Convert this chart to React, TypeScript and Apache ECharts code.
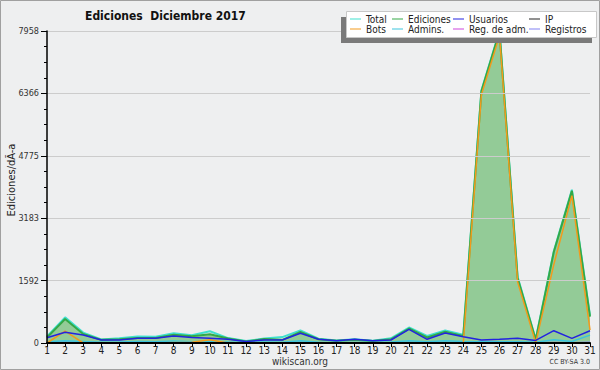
import React, { useEffect, useRef } from "react";
import * as echarts from "echarts";

const days = ["1","2","3","4","5","6","7","8","9","10","11","12","13","14","15","16","17","18","19","20","21","22","23","24","25","26","27","28","29","30","31"];
const yTicks = [0, 1592, 3183, 4775, 6366, 7958];

const total = [165,655,265,90,120,165,160,250,200,300,125,50,115,150,320,110,65,95,60,120,395,180,320,210,6440,7958,1690,95,2340,3910,700];
const ediciones = [140,612,230,80,95,130,130,210,170,225,115,40,100,80,285,95,55,85,50,95,370,140,285,180,6420,7940,1660,80,2320,3880,670];
const usuarios = [135,272,204,77,77,119,119,178,140,119,94,40,77,77,250,94,60,94,55,77,349,94,255,160,77,94,119,65,314,119,314];
const ip = [5,10,8,3,5,5,5,8,8,10,5,2,5,3,8,3,2,3,2,5,10,5,8,5,5,5,5,3,8,5,8];
const bots = [0,306,0,0,0,0,0,10,20,80,0,0,0,0,0,0,0,0,0,0,0,0,0,0,6330,7840,1560,5,2000,3760,330];
const admins = [30,55,40,20,25,40,35,50,30,45,25,10,25,20,55,20,12,15,10,25,60,30,55,40,30,30,30,20,80,40,200];
const regAdm = [0,0,0,0,0,0,0,0,0,0,0,0,0,0,0,0,0,0,0,0,0,0,0,0,0,0,0,0,0,0,0];
const registros = [15,20,15,10,12,15,12,15,12,15,10,5,10,8,15,10,6,8,6,10,18,10,15,12,10,12,10,8,15,12,20];

const colors: Record<string, string> = {
  "Total": "#3fe0cf",
  "Ediciones": "#34a846",
  "Usuarios": "#2323e0",
  "IP": "#222222",
  "Bots": "#f39a1c",
  "Admins.": "#3cc4dc",
  "Reg. de adm.": "#cc44dd",
  "Registros": "#8080f2",
};

const FONT = "DejaVu Sans Condensed, DejaVu Sans, sans-serif";

export default function App() {
  const ref = useRef<HTMLDivElement>(null);
  useEffect(() => {
    if (!ref.current) return;
    const chart = echarts.init(ref.current, undefined, { renderer: "svg" });
    const line = (name: string, data: number[], width: number, extra: any = {}) => ({
      name,
      type: "line",
      data,
      showSymbol: false,
      symbol: "none",
      color: colors[name],
      lineStyle: { color: colors[name], width },
      ...extra,
    });
    const legendCol = (names: string[], left: number) => ({
      data: names,
      orient: "vertical",
      left,
      top: 14,
      z: 30,
      padding: 0,
      itemGap: 0,
      itemWidth: 11,
      itemHeight: 1,
      icon: "rect",
      textStyle: { fontFamily: FONT, fontSize: 10, color: "#222", lineHeight: 10, padding: [0, 0, 0, 0] },
      selectedMode: false,
    });
    chart.setOption({
      animation: false,
      backgroundColor: "#eeeff0",
      textStyle: { fontFamily: FONT },
      graphic: [
        { type: "rect", z: -10, shape: { x: 0.5, y: 0.5, width: 599, height: 369 }, style: { fill: "none", stroke: "#a0a0a0", lineWidth: 1 } },
        { type: "rect", z: 10, shape: { x: 341, y: 17, width: 251, height: 26 }, style: { fill: "#7a7a7a" } },
        { type: "rect", z: 11, shape: { x: 346.5, y: 11.5, width: 250, height: 26 }, style: { fill: "#ffffff", stroke: "#c8c8c8", lineWidth: 1 } },
        { type: "text", z: 12, left: 85, top: 10, style: { text: "Ediciones  Diciembre 2017", fontFamily: FONT, fontWeight: "bold", fontSize: 12, fill: "#111" } },
        { type: "text", z: 12, x: 11, y: 180, rotation: Math.PI / 2, style: { text: "Ediciones/dÃ-a", fontFamily: FONT, fontSize: 11, fill: "#222", align: "center", verticalAlign: "middle" } },
        { type: "text", z: 12, x: 300, y: 361, style: { text: "wikiscan.org", fontFamily: FONT, fontSize: 10, fill: "#333", align: "center", verticalAlign: "middle" } },
        { type: "text", z: 12, x: 590, y: 362, style: { text: "CC BY-SA 3.0", fontFamily: FONT, fontSize: 7, fill: "#333", align: "right", verticalAlign: "middle" } },
      ],
      legend: [
        legendCol(["Total", "Bots"], 350),
        legendCol(["Ediciones", "Admins."], 392),
        legendCol(["Usuarios", "Reg. de adm."], 453),
        legendCol(["IP", "Registros"], 529),
      ],
      grid: { left: 47, right: 10, top: 31, bottom: 27, containLabel: false, outerBoundsMode: "none" },
      xAxis: {
        type: "category",
        data: days,
        boundaryGap: false,
        axisLine: { lineStyle: { color: "#000", width: 2 } },
        axisTick: { show: true, length: 4, lineStyle: { color: "#000" }, interval: 0 },
        axisLabel: { fontFamily: FONT, fontSize: 10, color: "#222", margin: 2, interval: 0 },
        splitLine: { show: false },
        z: 5,
      },
      yAxis: {
        type: "value",
        min: 0,
        max: yTicks[yTicks.length - 1],
        interval: yTicks[yTicks.length - 1] / 5,
        axisLine: { show: true, lineStyle: { color: "#000", width: 1.5 } },
        axisTick: { show: true, length: 6, lineStyle: { color: "#000" } },
        minorTick: { show: true, splitNumber: 4, length: 3, lineStyle: { color: "#000" } },
        axisLabel: {
          fontFamily: FONT,
          fontSize: 9,
          color: "#333",
          margin: 8,
          formatter: (v: number) => String(Math.round(v)),
        },
        splitLine: { show: true, lineStyle: { color: "#cccccc", width: 1 } },
        z: 5,
      },
      series: [
        line("Total", total, 2),
        line("Ediciones", ediciones, 2, { areaStyle: { color: "#93cb97", opacity: 1 } }),
        line("Registros", registros, 1.2),
        line("Reg. de adm.", regAdm, 1.2),
        line("IP", ip, 1.2),
        line("Admins.", admins, 1.5),
        line("Bots", bots, 1.5),
        line("Usuarios", usuarios, 1.5),
      ],
    });
    return () => chart.dispose();
  }, []);
  return <div ref={ref} style={{ position: "absolute", left: 0, top: 0, width: 600, height: 370 }} />;
}
